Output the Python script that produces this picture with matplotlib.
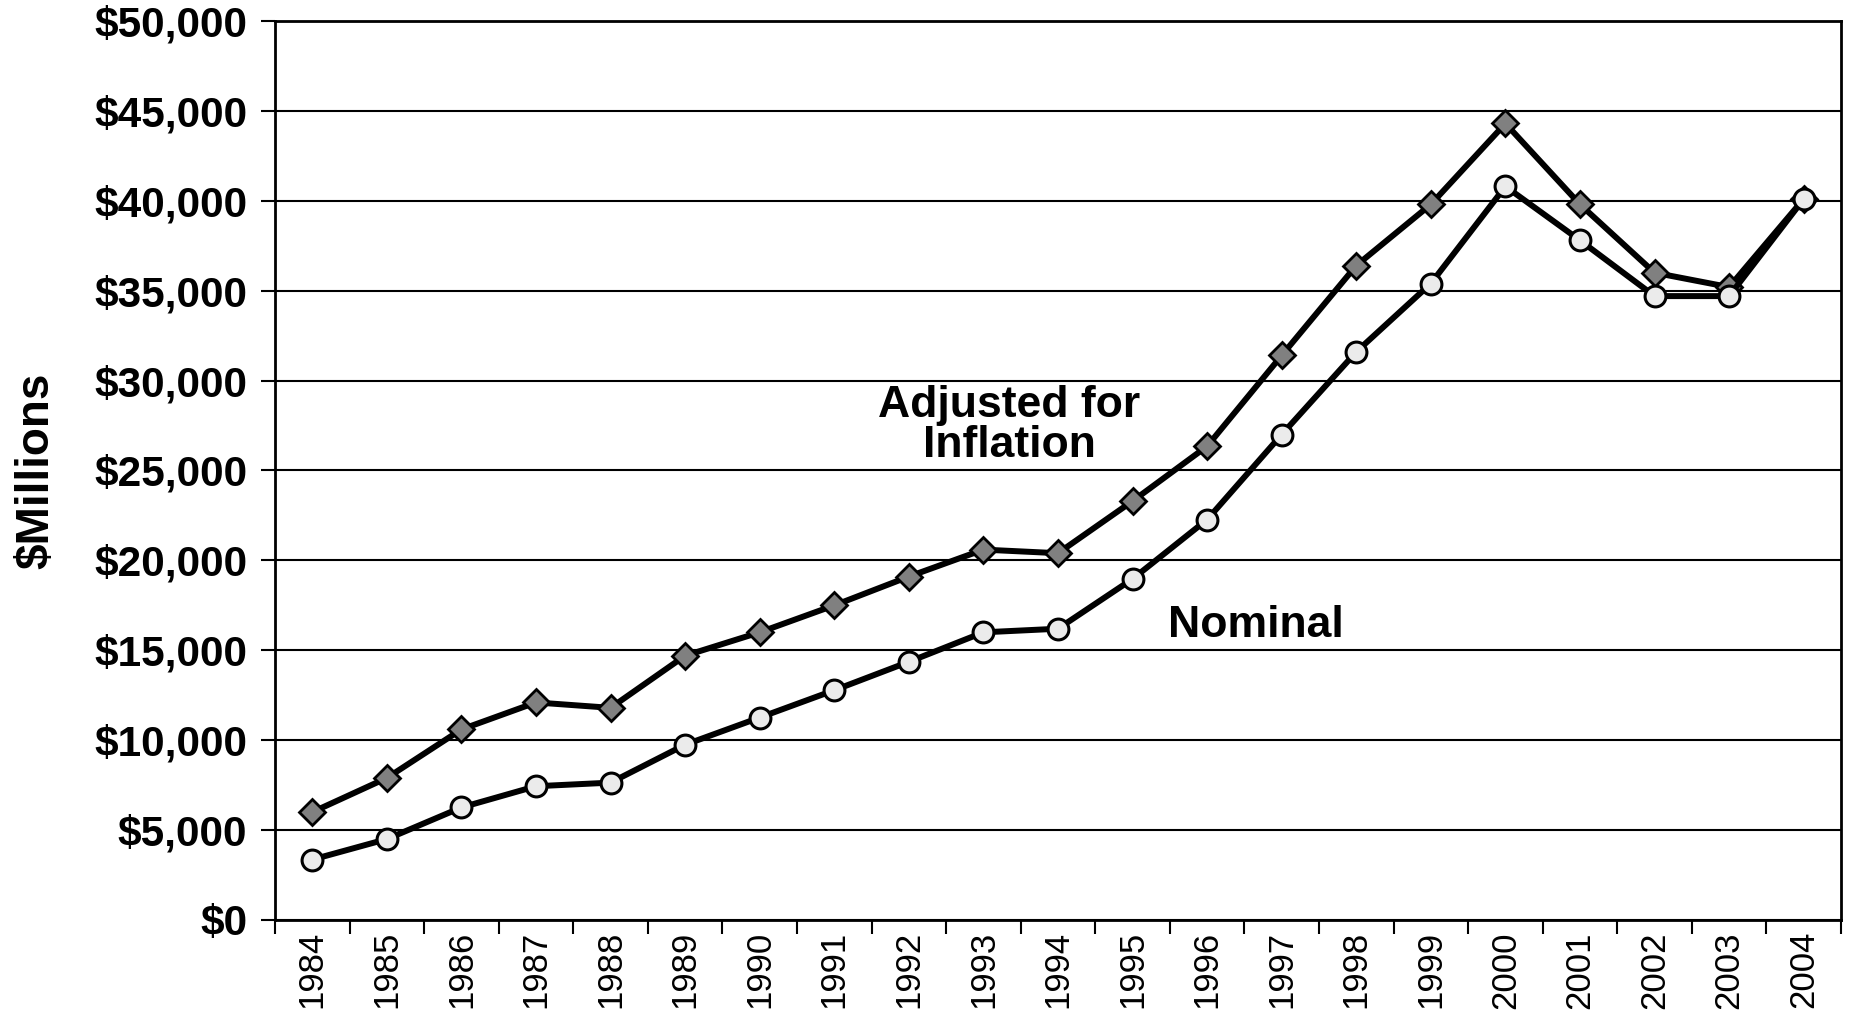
import matplotlib.pyplot as plt
import numpy as np
from matplotlib.ticker import FuncFormatter

plt.rcParams['font.family'] = ['Liberation Sans', 'DejaVu Sans']

anios = [str(a) for a in range(1984, 2005)]
ajustado = [6000, 7900, 10600, 12100, 11800, 14700, 16000, 17500, 19100, 20600, 20400,
            23300, 26350, 31400, 36400, 39800, 44300, 39800, 36000, 35200, 40100]
nominal = [3360, 4500, 6260, 7440, 7640, 9750, 11260, 12780, 14360, 16000, 16200,
           18970, 22270, 27000, 31600, 35400, 40800, 37800, 34700, 34700, 40100]

fig = plt.figure(figsize=(18.56, 10.14), dpi=100)
ax = fig.add_axes([275/1856, 1-920/1014, (1841-275)/1856, (920-21)/1014])

x = np.arange(len(anios))
ax.plot(x, ajustado, color='black', lw=4.3, marker='D', ms=13,
        mfc='#808080', mec='black', mew=2, zorder=3)
ax.plot(x, nominal, color='black', lw=4.3, marker='o', ms=15,
        mfc='#ebebeb', mec='black', mew=2.2, zorder=4)

ax.set_xlim(-0.5, len(anios)-0.5)
ax.set_ylim(0, 50000)
ax.set_yticks(np.arange(0, 50001, 5000))
ax.yaxis.set_major_formatter(FuncFormatter(lambda v, p: '${:,.0f}'.format(v)))
ax.grid(axis='y', color='black', lw=1.5)
ax.set_axisbelow(True)

ax.set_xticks(x)
ax.set_xticklabels(anios, rotation=90, fontsize=25)
ax.set_xticks(np.arange(-0.5, len(anios), 1), minor=True)
ax.tick_params(axis='x', which='major', length=0, pad=8)
ax.tick_params(axis='x', which='minor', length=10, width=1.5, direction='out')
ax.tick_params(axis='y', length=10, width=1.5, pad=10, labelsize=30.5)
for lbl in ax.get_yticklabels():
    lbl.set_fontweight('bold')
for s in ax.spines.values():
    s.set_linewidth(2)

ax.set_ylabel('$Millions', fontsize=33, fontweight='bold', labelpad=26)

ax.text(9.35, 27500, 'Adjusted for\nInflation', fontsize=32, fontweight='bold',
        ha='center', va='center', linespacing=0.95)
ax.text(12.65, 16400, 'Nominal', fontsize=32, fontweight='bold', ha='center', va='center')

fig.savefig('out.png', dpi=100)
